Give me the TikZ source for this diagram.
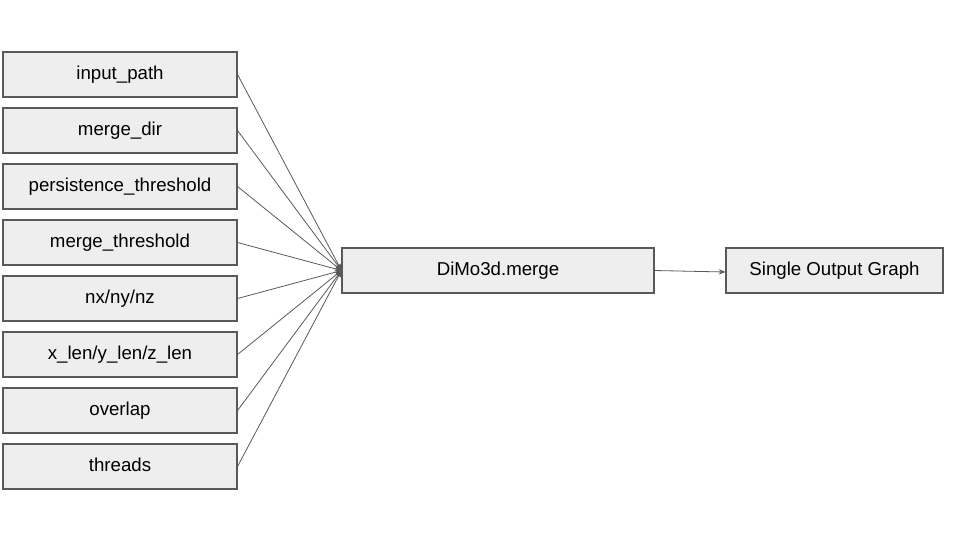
\documentclass[tikz,border=0pt]{standalone}
\usepackage{fontspec}
\setmainfont{Liberation Sans}
\usetikzlibrary{arrows.meta}
\definecolor{boxfill}{HTML}{EEEEEE}
\definecolor{edge}{HTML}{595959}
\begin{document}
\begin{tikzpicture}[x=0.75pt,y=-0.75pt,
  box/.style={draw=edge,fill=boxfill,line width=0.8pt,minimum height=45*0.75pt,inner sep=0pt,text height=0.95em,text depth=0.2em,font=\fontsize{14}{17}\selectfont},
  conn/.style={draw=edge,line width=0.6pt,-{Stealth[length=5pt,width=4pt]}}]
\useasboundingbox (0,0) rectangle (960,540);
\node[box,minimum width=234*0.75pt] (a) at (120,74.5) {input\_path};
\node[box,minimum width=234*0.75pt] (b) at (120,130.5) {merge\_dir};
\node[box,minimum width=234*0.75pt] (c) at (120,186.5) {persistence\_threshold};
\node[box,minimum width=234*0.75pt] (d) at (120,242.5) {merge\_threshold};
\node[box,minimum width=234*0.75pt] (e) at (120,298.5) {nx/ny/nz};
\node[box,minimum width=234*0.75pt] (f) at (120,354.5) {x\_len/y\_len/z\_len};
\node[box,minimum width=234*0.75pt] (g) at (120,410.5) {overlap};
\node[box,minimum width=234*0.75pt] (h) at (120,466.5) {threads};
\node[box,minimum width=312*0.75pt] (m) at (498,270.5) {DiMo3d.merge};
\node[box,minimum width=217*0.75pt] (o) at (834.5,270.5) {Single Output Graph};
\foreach \n in {a,b,c,d,e,f,g,h}{\draw[conn] (\n.east) -- (m.west);}
\draw[conn] (m.east) -- ([yshift=-1.5*0.75pt]o.west);
\end{tikzpicture}
\end{document}
